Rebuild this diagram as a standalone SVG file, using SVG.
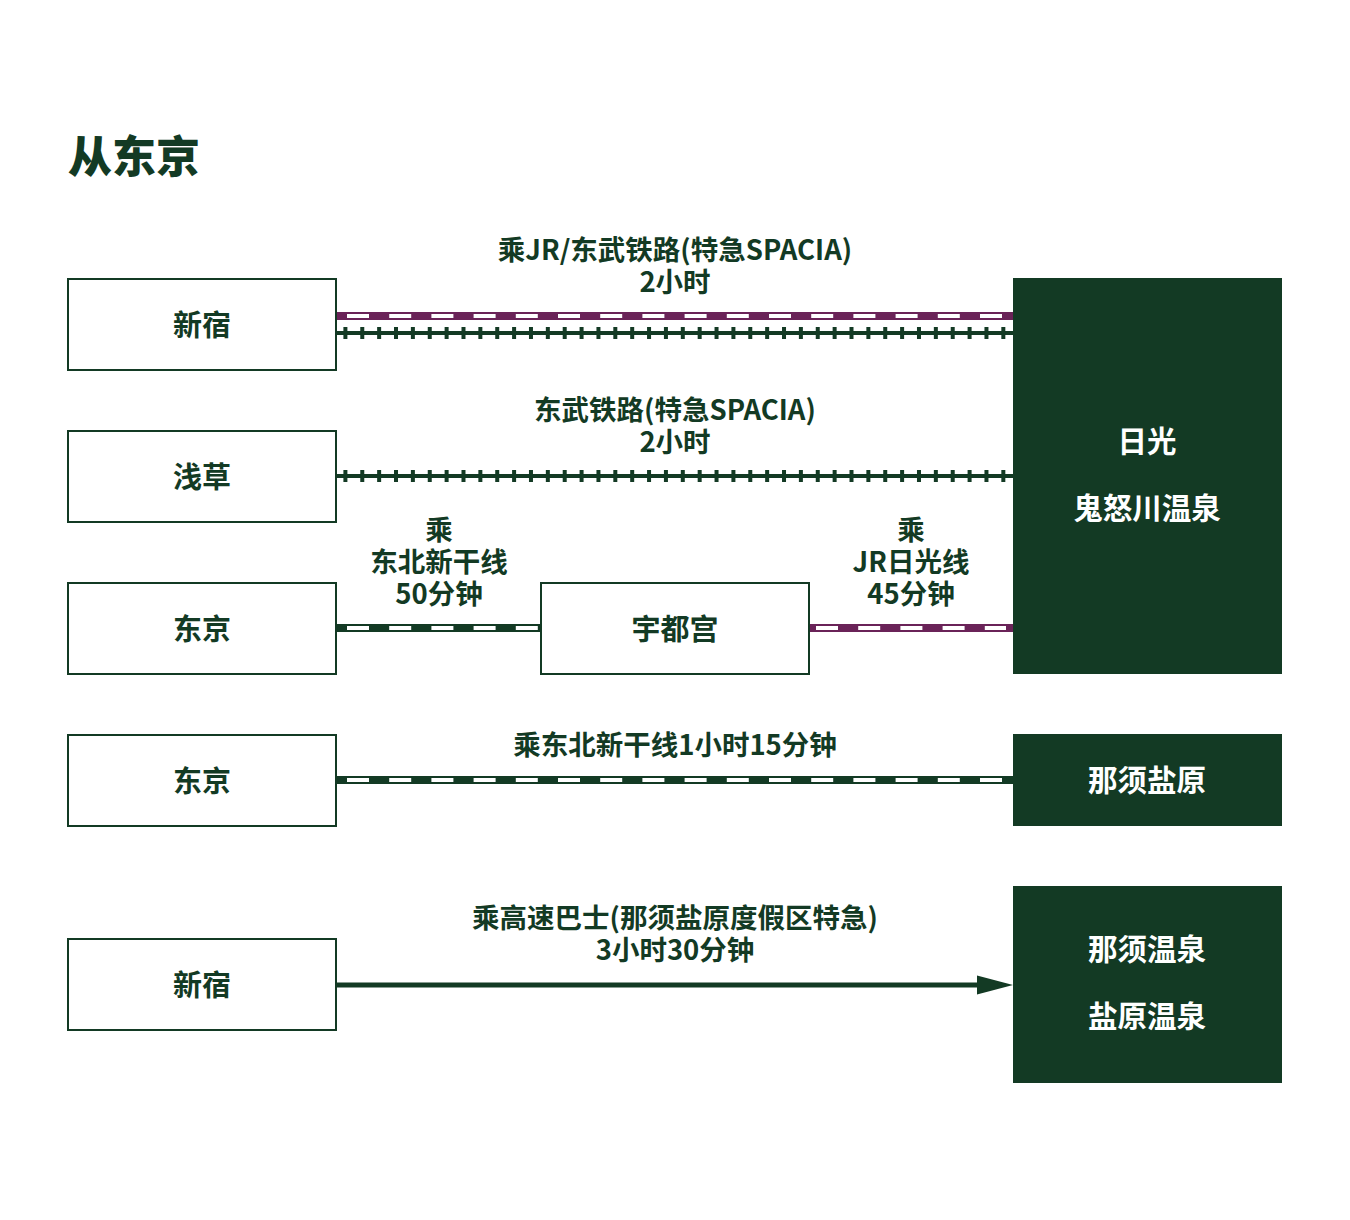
<svg xmlns="http://www.w3.org/2000/svg" width="1350" height="1220" viewBox="0 0 1350 1220">
<style>
text{font-family:"Noto Sans CJK SC","Noto Sans",sans-serif;font-weight:700;}
.lbl{font-size:27.5px;fill:#133a24;text-anchor:middle;dominant-baseline:central;}
.nt{font-size:29px;fill:#133a24;text-anchor:middle;dominant-baseline:central;}
.dt{font-size:29.5px;fill:#ffffff;text-anchor:middle;dominant-baseline:central;}
.box{fill:#ffffff;stroke:#133a24;stroke-width:2;}
.dbox{fill:#133a24;}
.track{stroke:#133a24;stroke-width:4;}
.ties{stroke:#133a24;stroke-width:12;stroke-dasharray:4 12.87;}
.purple{stroke:#6a2358;stroke-width:8;}
.green{stroke:#133a24;stroke-width:8;}
.dash{stroke:#ffffff;stroke-width:4;stroke-dasharray:22 20.2;}
</style>
<rect width="1350" height="1220" fill="#ffffff"/>
<text x="68" y="154" style="font-size:44px;fill:#133a24;dominant-baseline:central;font-weight:900">从东京</text>

<g id="connectors">
  <line class="purple" x1="337" y1="316" x2="1013" y2="316"/>
  <line class="dash" x1="347" y1="316" x2="1002" y2="316"/>
  <line class="track" x1="337" y1="333" x2="1013" y2="333"/>
  <line class="ties" x1="343.4" y1="333" x2="1006" y2="333"/>
  <line class="track" x1="337" y1="476" x2="1013" y2="476"/>
  <line class="ties" x1="343.4" y1="476" x2="1006" y2="476"/>
  <line class="green" x1="337" y1="628" x2="541" y2="628"/>
  <line class="dash" x1="347" y1="628" x2="539" y2="628"/>
  <line class="purple" x1="809" y1="628" x2="1013" y2="628"/>
  <line class="dash" x1="816" y1="628" x2="1006" y2="628"/>
  <line class="green" x1="337" y1="780" x2="1013" y2="780"/>
  <line class="dash" x1="347" y1="780" x2="1002" y2="780"/>
  <line x1="337" y1="985" x2="982" y2="985" stroke="#133a24" stroke-width="5"/>
  <polygon points="977,975.5 1013,985 977,994.5" fill="#133a24"/>
</g>

<g id="labels">
  <text class="lbl" x="675" y="248">乘JR/东武铁路(特急SPACIA)</text>
  <text class="lbl" x="675" y="280">2小时</text>
  <text class="lbl" x="675" y="408">东武铁路(特急SPACIA)</text>
  <text class="lbl" x="675" y="440">2小时</text>
  <text class="lbl" x="439" y="528">乘</text>
  <text class="lbl" x="439" y="560">东北新干线</text>
  <text class="lbl" x="439" y="592">50分钟</text>
  <text class="lbl" x="911" y="528">乘</text>
  <text class="lbl" x="911" y="560">JR日光线</text>
  <text class="lbl" x="911" y="592">45分钟</text>
  <text class="lbl" x="675" y="743">乘东北新干线1小时15分钟</text>
  <text class="lbl" x="675" y="916">乘高速巴士(那须盐原度假区特急)</text>
  <text class="lbl" x="675" y="948">3小时30分钟</text>
</g>

<g id="node-shinjuku1"><rect class="box" x="68" y="279" width="268" height="91"/><text class="nt" x="202" y="323">新宿</text></g>
<g id="node-asakusa"><rect class="box" x="68" y="431" width="268" height="91"/><text class="nt" x="202" y="475">浅草</text></g>
<g id="node-tokyo1"><rect class="box" x="68" y="583" width="268" height="91"/><text class="nt" x="202" y="627">东京</text></g>
<g id="node-utsunomiya"><rect class="box" x="541" y="583" width="268" height="91"/><text class="nt" x="675" y="627">宇都宫</text></g>
<g id="node-tokyo2"><rect class="box" x="68" y="735" width="268" height="91"/><text class="nt" x="202" y="779">东京</text></g>
<g id="node-shinjuku2"><rect class="box" x="68" y="939" width="268" height="91"/><text class="nt" x="202" y="983">新宿</text></g>

<g id="node-nikko"><rect class="dbox" x="1013" y="278" width="269" height="396"/><text class="dt" x="1147" y="439">日光</text><text class="dt" x="1147" y="506">鬼怒川温泉</text></g>
<g id="node-nasushiobara"><rect class="dbox" x="1013" y="734" width="269" height="92"/><text class="dt" x="1147" y="778">那须盐原</text></g>
<g id="node-onsen"><rect class="dbox" x="1013" y="886" width="269" height="197"/><text class="dt" x="1147" y="947">那须温泉</text><text class="dt" x="1147" y="1014">盐原温泉</text></g>
</svg>
